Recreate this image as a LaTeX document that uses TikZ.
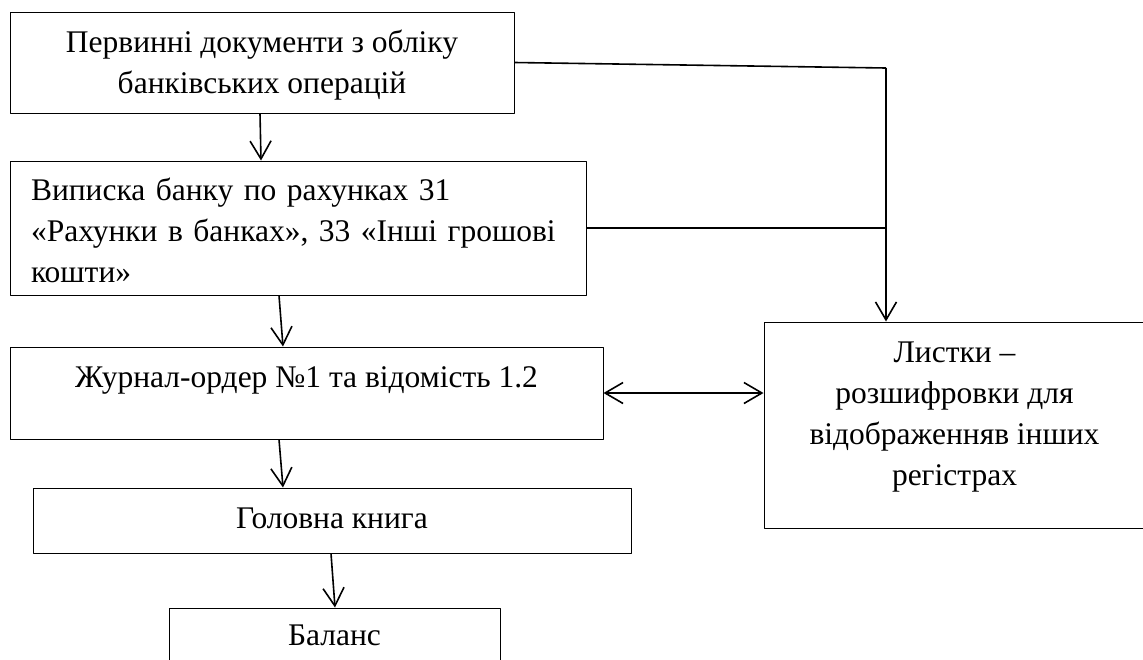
\documentclass[tikz,border=0pt]{standalone}
\usepackage{fontspec}
\setmainfont{Liberation Serif}
\usetikzlibrary{arrows.meta}

\begin{document}
\begin{tikzpicture}[x=1pt, y=-1pt, font=\fontsize{31.5pt}{41pt}\selectfont, line join=round,
	>={Straight Barb[length=18pt,width=21pt]},
	blk/.style={draw, line width=1pt, inner sep=0pt, text height=21pt},
	arr/.style={->, line width=1.6pt}, ln/.style={line width=1.6pt}]
	\useasboundingbox (0,0) rectangle (1143,659);
	
	\node[blk, minimum width=504pt, minimum height=101pt, align=center, text height=62pt, text depth=0pt] (perv) at (262,62.5) {Первинні документи з обліку\\банківських операцій};
	\node[blk, minimum width=576pt, minimum height=134pt, inner xsep=21pt, text width=534pt, align=left, text height=26pt, text depth=82pt] (vyp) at (298,228) {Виписка банку по рахунках 31\\«Рахунки в банках», 33 «Інші грошові\\кошти»};
	\node[blk, minimum width=593pt, minimum height=92pt, text depth=33pt] (zhurn) at (306.5,393) {Журнал-ордер №1 та відомість 1.2};
	\node[blk, minimum width=598pt, minimum height=65pt, text depth=6pt] (kniga) at (332,520.5) {Головна книга};
	\node[blk, minimum width=331pt, minimum height=60pt, text depth=7pt] (balans) at (334.5,638) {Баланс};
	\node[blk, minimum width=381pt, minimum height=206pt, align=center, text height=144pt, text depth=24pt] (lystky) at (954.5,425) {Листки –\\розшифровки для\\відображенняв інших\\регістрах};
	
	\draw[arr] ([xshift=-2pt]perv.south)--([xshift=-37pt]vyp.north);
	\draw[arr] ([xshift=-19pt]vyp.south)--([xshift=-23.5pt]zhurn.north);
	\draw[arr] ([xshift=-27.5pt]zhurn.south)--([xshift=-49pt]kniga.north);
	\draw[arr] ([xshift=-1pt]kniga.south)--([xshift=0.5pt]balans.north);
	
	\coordinate (c1) at (886,68);
	\draw[ln] (perv.east)--(c1);
	\draw[arr] (c1)--(c1 |- lystky.north);
	\draw[ln] (vyp.east)--(vyp.east -| c1);
	\draw[<->, line width=1.6pt] (zhurn.east)--(zhurn.east -| lystky.west);
\end{tikzpicture}
\end{document}
